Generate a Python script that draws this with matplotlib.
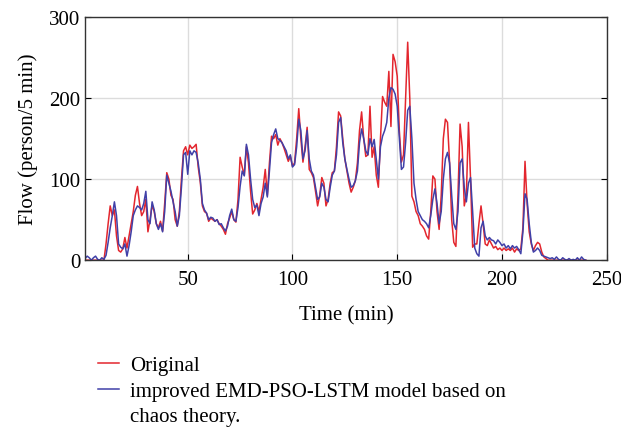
import numpy as np
import matplotlib.pyplot as plt
from matplotlib.lines import Line2D

plt.rcParams['font.family'] = ['Liberation Serif', 'DejaVu Serif']

# minutes 1..240
t = np.arange(1, 241)

original = [
    0, 0, 0, 0, 0, 0, 0, 0, 0, 0,
    20, 45, 67, 55, 62, 30, 12, 10, 14, 28,
    15, 30, 45, 60, 80, 91, 70, 55, 60, 75,
    35, 50, 68, 60, 45, 40, 48, 36, 70, 108,
    100, 80, 75, 50, 42, 60, 100, 135, 140, 130,
    142, 138, 140, 143, 115, 96, 67, 60, 58, 48,
    52, 50, 48, 50, 45, 42, 38, 32, 45, 52,
    60, 50, 47, 75, 127, 115, 105, 140, 120, 85,
    57, 62, 70, 60, 75, 90, 112, 80, 120, 153,
    150, 155, 142, 150, 145, 138, 130, 122, 128, 116,
    120, 150, 187, 150, 121, 140, 164, 112, 108, 102,
    85, 67, 80, 102, 95, 67, 75, 95, 108, 110,
    140, 183, 178, 150, 125, 110, 95, 84, 90, 98,
    120, 160, 183, 150, 128, 130, 190, 127, 140, 105,
    90, 150, 202, 195, 190, 233, 165, 254, 245, 227,
    160, 121, 130, 200, 269, 200, 79, 72, 60, 55,
    45, 42, 38, 30, 26, 60, 104, 100, 60, 38,
    80, 150, 174, 170, 120, 50, 22, 17, 80, 168,
    140, 67, 80, 170, 100, 16, 20, 20, 45, 67,
    45, 20, 18, 25, 20, 15, 17, 13, 15, 12,
    15, 12, 14, 12, 15, 10, 14, 12, 14, 40,
    122, 70, 35, 20, 12, 18, 22, 20, 10, 4,
    2, 0, 0, 0, 0, 0, 0, 0, 0, 0,
    0, 0, 0, 0, 0, 0, 0, 0, 0, 0,
]

predicted = [
    2, 5, 3, 0, 3, 5, 1, 0, 3, 1,
    6, 22, 40, 55, 72, 55, 20, 16, 14, 20,
    5, 18, 35, 55, 62, 67, 65, 62, 70, 85,
    50, 45, 72, 62, 45, 38, 45, 35, 60, 105,
    95, 85, 72, 60, 42, 55, 90, 130, 133, 106,
    135, 130, 135, 133, 120, 100, 70, 62, 58, 50,
    53, 52, 48, 50, 44, 45, 40, 36, 42, 55,
    63, 50, 48, 65, 91, 110, 104, 143, 130, 100,
    75, 65, 68, 55, 70, 78, 95, 78, 110, 145,
    155, 162, 150, 148, 145, 140, 135, 125, 130, 115,
    118, 140, 174, 160, 125, 135, 160, 125, 110, 105,
    90, 75, 78, 95, 90, 75, 72, 90, 105, 110,
    130, 170, 176, 145, 125, 112, 100, 90, 92, 98,
    110, 145, 162, 150, 135, 130, 150, 140, 149, 125,
    100, 140, 153, 160, 170, 200, 213, 211, 205, 190,
    150, 112, 115, 145, 185, 190, 150, 95, 75, 60,
    55, 50, 48, 45, 40, 55, 75, 88, 70, 45,
    60, 100, 125, 133, 120, 80, 45, 38, 60, 120,
    125, 90, 72, 95, 102, 60, 15, 8, 5, 40,
    48, 30, 25, 28, 25, 24, 20, 25, 22, 18,
    20, 15, 18, 14, 18, 15, 17, 13, 8, 35,
    82, 75, 45, 22, 10, 12, 15, 12, 6, 5,
    4, 3, 2, 3, 1, 4, 1, 0, 3, 1,
    0, 2, 0, 1, 0, 3, 0, 4, 1, 0,
]

labels = ['Original', 'improved EMD-PSO-LSTM model based on', 'chaos theory.']

fig = plt.figure(figsize=(6.21, 4.31), dpi=100)
ax = fig.add_axes([0.137, 0.394, 0.840, 0.564])

l1, = ax.plot(t, original, color='#e3262e', lw=1.1)
l2, = ax.plot(t, predicted, color='#4040a8', lw=1.1)

ax.set_xlim(1, 250)
ax.set_ylim(0, 300)
ax.set_xticks([50, 100, 150, 200, 250])
ax.set_yticks([0, 100, 200, 300])
ax.grid(True, color='#dcdcdc', lw=1)
ax.set_axisbelow(True)
ax.tick_params(direction='in', length=4, labelsize=15, right=True, top=False)
ax.tick_params(axis='x', pad=7)
for s in ax.spines.values():
    s.set_color('#333333')
    s.set_linewidth(1)

ax.set_xlabel('Time (min)', fontsize=15, labelpad=12)
ax.set_ylabel('Flow (person/5 min)', fontsize=15, labelpad=8)

blank = Line2D([], [], color='none')
fig.legend([l1, l2, blank], labels,
           loc='upper left', bbox_to_anchor=(0.158, 0.172),
           frameon=False, fontsize=15, handlelength=1.0, handletextpad=0.55,
           labelspacing=0.28, borderpad=0, borderaxespad=0)

fig.savefig('out.png', dpi=100)
